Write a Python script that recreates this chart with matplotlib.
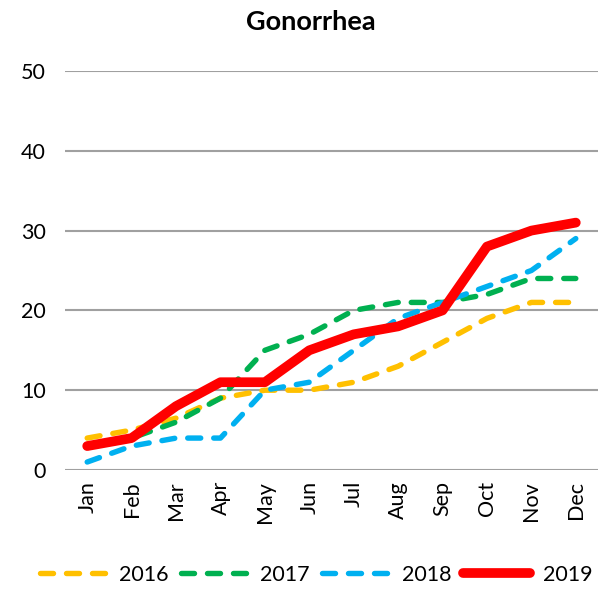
import matplotlib
matplotlib.use("Agg")
import matplotlib.pyplot as plt

months = ["Jan", "Feb", "Mar", "Apr", "May", "Jun", "Jul", "Aug", "Sep", "Oct", "Nov", "Dec"]
y2016 = [4, 5, 6.5, 9, 10, 10, 11, 13, 16, 19, 21, 21]
y2017 = [3, 4, 6, 9, 15, 17, 20, 21, 21, 22, 24, 24]
y2018 = [1, 3, 4, 4, 10, 11, 15, 19, 21, 23, 25, 29]
y2019 = [3, 4, 8, 11, 11, 15, 17, 18, 20, 28, 30, 31]
yticks = [0, 10, 20, 30, 40, 50]
title = "Gonorrhea"

plt.rcParams['font.family'] = ['Lato', 'DejaVu Sans']

fig = plt.figure(figsize=(6.04, 5.90), dpi=100)
ax = fig.add_axes([65/604, 1-470/590, (598-65)/604, (470-71)/590])

x = list(range(len(months)))
dash_lw = 3.9
dash = (2.4, 2.4)
ax.plot(x, y2016, color="#FFC000", lw=dash_lw, dashes=dash, dash_capstyle='round', label="2016", zorder=3)
ax.plot(x, y2017, color="#00B050", lw=dash_lw, dashes=dash, dash_capstyle='round', label="2017", zorder=3)
ax.plot(x, y2018, color="#00B0F0", lw=dash_lw, dashes=dash, dash_capstyle='round', label="2018", zorder=3)
ax.plot(x, y2019, color="#FF0000", lw=7, solid_capstyle='round', solid_joinstyle='round', label="2019", zorder=4)

ax.set_xlim(-0.5, len(months) - 0.5)
ax.set_ylim(0, 50)
ax.set_yticks(yticks)
ax.set_xticks(x)
ax.set_xticklabels(months, rotation=90, fontsize=15.5)
ax.tick_params(axis='y', labelsize=15.5, length=0, pad=14)
ax.tick_params(axis='x', length=0, pad=8)
ax.grid(axis='y', color="#A0A0A0", lw=1.5)
ax.set_axisbelow(True)
for s in ax.spines.values():
    s.set_visible(False)

fig.text(311/604, 1-22/590, title, ha='center', va='center', fontsize=19.5, fontweight='bold')

leg = fig.legend(loc='center', bbox_to_anchor=(316/604, 1-575/590), ncol=4, frameon=False,
                 fontsize=15.5, handlelength=3.1, handletextpad=0.6, columnspacing=0.55, borderaxespad=0)

fig.savefig("out.png", dpi=100)
